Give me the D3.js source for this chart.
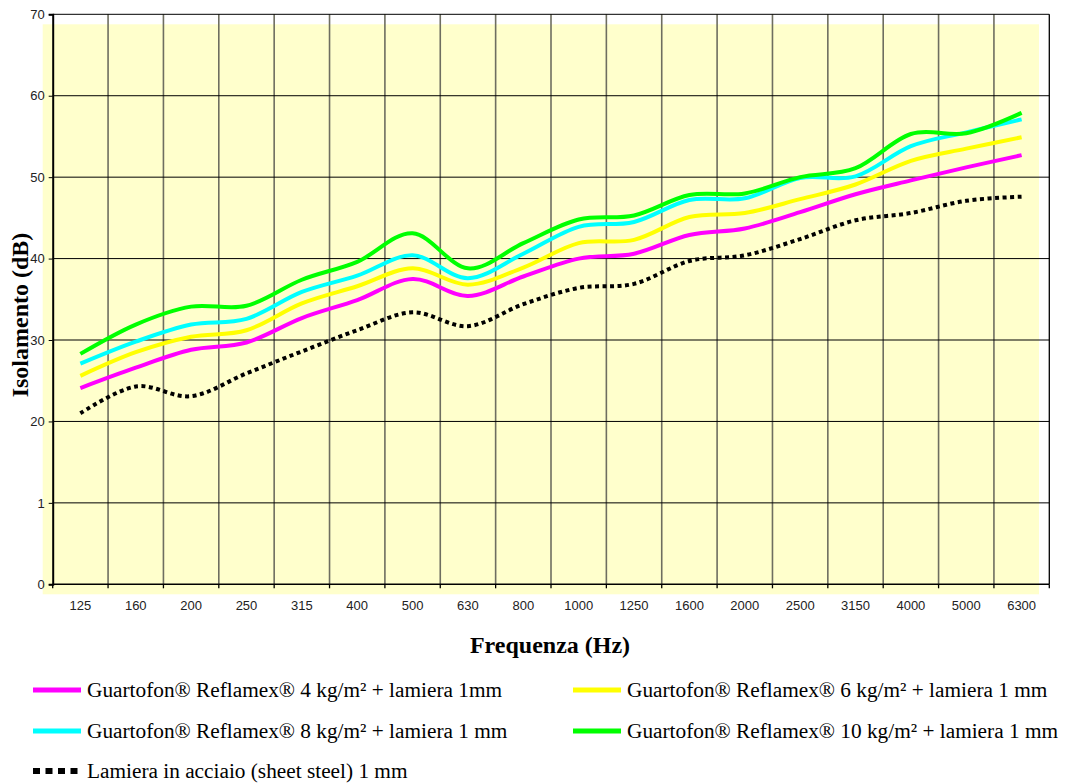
<!DOCTYPE html>
<html>
<head>
  <title>Isolamento Guartofon Reflamex</title>
  <script src="https://d3js.org/d3.v7.min.js"></script>
  <style>
    body { margin: 0; background: #fff; }
  </style>
</head>
<body>
<script type="text/javascript">
  var w = 1066;
  var h = 783;

  // frequencies (Hz) along the x axis
  var freqs = ["125", "160", "200", "250", "315", "400", "500", "630", "800",
               "1000", "1250", "1600", "2000", "2500", "3150", "4000", "5000", "6300"];
  // y tick labels as printed on the original (the "10" is printed as "1")
  var yTicks = [0, 10, 20, 30, 40, 50, 60, 70];
  var yTickLabels = ["0", "1", "20", "30", "40", "50", "60", "70"];

  // isolation values (dB)
  var reflamex4 = [24.1, 26.6, 28.8, 29.7, 32.7, 34.9, 37.5, 35.4, 37.8, 40.0, 40.6, 42.9, 43.7, 45.7, 47.9, 49.6, 51.2, 52.7];
  var reflamex6 = [25.6, 28.5, 30.4, 31.2, 34.5, 36.6, 38.8, 36.8, 38.9, 41.9, 42.3, 45.1, 45.6, 47.3, 49.1, 52.0, 53.5, 54.9];
  var reflamex8 = [27.1, 29.8, 31.9, 32.6, 35.9, 37.9, 40.4, 37.6, 40.6, 43.9, 44.5, 47.2, 47.4, 49.9, 50.1, 53.8, 55.5, 57.1];
  var reflamex10 = [28.3, 31.9, 34.1, 34.2, 37.4, 39.6, 43.1, 38.8, 41.9, 44.8, 45.3, 47.8, 48.0, 50.0, 51.1, 55.3, 55.4, 57.9];
  var lamiera = [21.0, 24.3, 23.1, 25.9, 28.6, 31.2, 33.4, 31.7, 34.4, 36.4, 36.9, 39.7, 40.4, 42.4, 44.7, 45.6, 47.1, 47.6];

  var seriesNames = [
    "Guartofon\u00AE Reflamex\u00AE 4 kg/m\u00B2 + lamiera 1mm",
    "Guartofon\u00AE Reflamex\u00AE 6 kg/m\u00B2 + lamiera 1 mm",
    "Guartofon\u00AE Reflamex\u00AE 8 kg/m\u00B2 + lamiera 1 mm",
    "Guartofon\u00AE Reflamex\u00AE 10 kg/m\u00B2 + lamiera 1 mm",
    "Lamiera in acciaio (sheet steel) 1 mm"
  ];
  var seriesColors = ["#ff00ff", "#ffff00", "#00ffff", "#00ff00", "#000000"];

  var series = [reflamex4, reflamex6, reflamex8, reflamex10, lamiera].map(function(v, i){
    return { name: seriesNames[i], color: seriesColors[i], dotted: i == 4, values: v };
  });

  // plot box in pixels
  var plotL = 52.7, plotR = 1049.3, plotT = 14.3, plotB = 584.3;

  var svg = d3.select("body").append("svg")
    .attr("width", w)
    .attr("height", h);

  var x = d3.scaleBand().domain(freqs).range([plotL, plotR]);
  var y = d3.scaleLinear().domain([0, 70]).range([plotB, plotT]);

  // pale yellow plot area (drawn a bit offset like the original)
  svg.append("rect")
    .attr("x", plotL - 10)
    .attr("y", plotT + 10)
    .attr("width", plotR - plotL - 0.3)
    .attr("height", plotB - plotT)
    .attr("fill", "#ffffcc");

  // vertical grid lines at the band edges
  var edges = freqs.map(function(f){ return x(f); }).concat([plotR]);
  svg.selectAll(".vgrid")
    .data(edges.slice(1, -1))
    .enter()
    .append("line")
    .attr("class", "vgrid")
    .attr("x1", function(d){ return d; })
    .attr("x2", function(d){ return d; })
    .attr("y1", plotT)
    .attr("y2", plotB)
    .attr("stroke", "#6e6e60")
    .attr("stroke-width", 1.6);

  // horizontal grid lines
  svg.selectAll(".hgrid")
    .data(yTicks.slice(1))
    .enter()
    .append("line")
    .attr("class", "hgrid")
    .attr("x1", plotL)
    .attr("x2", plotR)
    .attr("y1", function(d){ return y(d); })
    .attr("y2", function(d){ return y(d); })
    .attr("stroke", "#000")
    .attr("stroke-width", 1);

  // right frame
  svg.append("line")
    .attr("x1", plotR).attr("x2", plotR)
    .attr("y1", plotT).attr("y2", plotB)
    .attr("stroke", "#000").attr("stroke-width", 1.3);

  // y axis
  var yAxis = svg.append("g")
    .attr("transform", "translate(" + plotL + ",0)")
    .call(d3.axisLeft(y).tickValues(yTicks).tickSize(4).tickPadding(4)
      .tickFormat(function(d, i){ return yTickLabels[i]; }));
  yAxis.select(".domain").attr("stroke", "#000").attr("stroke-width", 2);
  yAxis.selectAll("text")
    .attr("font-family", "'Liberation Sans', Arial, sans-serif")
    .attr("font-size", 13)
    .attr("fill", "#222");

  // x axis: labels at band centres, ticks at band edges
  var xAxis = svg.append("g")
    .attr("transform", "translate(0," + plotB + ")")
    .call(d3.axisBottom(x).tickSize(0).tickPadding(16));
  xAxis.select(".domain").remove();
  xAxis.selectAll("text")
    .attr("font-family", "'Liberation Sans', Arial, sans-serif")
    .attr("font-size", 13)
    .attr("fill", "#222");

  svg.append("line")
    .attr("x1", plotL).attr("x2", plotR)
    .attr("y1", plotB).attr("y2", plotB)
    .attr("stroke", "#000").attr("stroke-width", 1.6);

  svg.selectAll(".xtick")
    .data(edges)
    .enter()
    .append("line")
    .attr("class", "xtick")
    .attr("x1", function(d){ return d; })
    .attr("x2", function(d){ return d; })
    .attr("y1", plotB)
    .attr("y2", plotB + 4)
    .attr("stroke", "#000")
    .attr("stroke-width", 1.3);

  // the lines, smoothed like the spreadsheet chart
  var line = d3.line()
    .x(function(d, i){ return x(freqs[i]) + x.bandwidth() / 2; })
    .y(function(d){ return y(d); })
    .curve(d3.curveCardinal.tension(0));

  svg.selectAll(".series")
    .data(series)
    .enter()
    .append("path")
    .attr("class", "series")
    .attr("d", function(d){ return line(d.values); })
    .attr("fill", "none")
    .attr("stroke", function(d){ return d.color; })
    .attr("stroke-width", 4)
    .attr("stroke-dasharray", function(d){ return d.dotted ? "4,3.5" : null; });

  // axis titles
  svg.append("text")
    .attr("x", 550)
    .attr("y", 653)
    .attr("text-anchor", "middle")
    .attr("font-family", "'Liberation Serif', 'Times New Roman', serif")
    .attr("font-weight", "bold")
    .attr("font-size", 24)
    .text("Frequenza (Hz)");

  svg.append("text")
    .attr("transform", "translate(28,315) rotate(-90)")
    .attr("text-anchor", "middle")
    .attr("font-family", "'Liberation Serif', 'Times New Roman', serif")
    .attr("font-weight", "bold")
    .attr("font-size", 24)
    .text("Isolamento (dB)");

  // legend: two columns, last entry alone on the third row
  var legPos = [[33, 690], [573, 690], [33, 731], [573, 731], [33, 771]];
  var legOrder = [0, 1, 2, 3, 4];
  var leg = svg.selectAll(".legend")
    .data(legOrder)
    .enter()
    .append("g")
    .attr("class", "legend")
    .attr("transform", function(d, i){ return "translate(" + legPos[i][0] + "," + legPos[i][1] + ")"; });

  leg.append("line")
    .attr("x1", 0).attr("x2", 48)
    .attr("y1", 0).attr("y2", 0)
    .attr("stroke", function(d){ return series[d].color; })
    .attr("stroke-width", function(d){ return series[d].dotted ? 6 : 5; })
    .attr("stroke-dasharray", function(d){ return series[d].dotted ? "7,5.5" : null; });

  leg.append("text")
    .attr("x", 54)
    .attr("y", 7)
    .attr("font-family", "'Liberation Serif', 'Times New Roman', serif")
    .attr("font-size", 21.3)
    .attr("fill", "#000")
    .text(function(d){ return series[d].name; });
</script>
</body>
</html>
